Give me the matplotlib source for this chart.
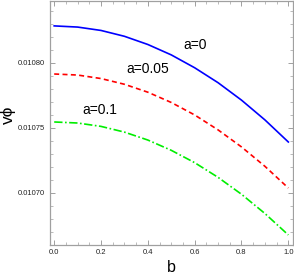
import matplotlib
matplotlib.use('Agg')
import matplotlib.pyplot as plt
from matplotlib.ticker import MultipleLocator

plt.rcParams['font.family'] = ['Liberation Sans', 'DejaVu Sans']

b = [0.0, 0.1, 0.2, 0.3, 0.4, 0.5, 0.6, 0.7, 0.8, 0.9, 1.0]
v_a0 = [0.0108285, 0.0108276, 0.0108250, 0.0108205, 0.0108142, 0.0108062,
        0.0107963, 0.0107848, 0.0107714, 0.0107562, 0.0107392]
v_a005 = [0.0107915, 0.0107907, 0.0107880, 0.0107836, 0.0107775, 0.0107696,
          0.0107600, 0.0107485, 0.0107354, 0.0107205, 0.0107038]
v_a01 = [0.0107546, 0.0107538, 0.0107512, 0.0107468, 0.0107407, 0.0107328,
         0.0107233, 0.0107120, 0.0106990, 0.0106842, 0.0106677]
y_ticks = [0.01070, 0.01075, 0.01080]
x_ticks = [0.0, 0.2, 0.4, 0.6, 0.8, 1.0]

fig = plt.figure(figsize=(2.94, 2.74), dpi=100)
ax = fig.add_axes([0.1684, 0.106, 0.8282, 0.892])

ax.plot(b, v_a0, color='#0000ff', lw=1.2)
ax.plot(b, v_a005, color='#ff0000', lw=1.2, ls=(0, (3, 2)))
ax.plot(b, v_a01, color='#00ee00', lw=1.2, ls=(0, (5, 1.5, 1, 1.5)))

ax.text(0.60, 0.010814, 'a=0', fontsize=10, ha='center', va='center')
ax.text(0.40, 0.010795, 'a=0.05', fontsize=10, ha='center', va='center')
ax.text(0.196, 0.010764, 'a=0.1', fontsize=10, ha='center', va='center')

ax.set_xlim(-0.02, 1.02)
ax.set_ylim(0.01066, 0.010848)
ax.set_xticks(x_ticks)
ax.set_xticklabels([f'{t:.1f}' for t in x_ticks])
ax.set_yticks(y_ticks)
ax.set_yticklabels([f'{t:.5f}' for t in y_ticks])
ax.xaxis.set_minor_locator(MultipleLocator(0.05))
ax.yaxis.set_minor_locator(MultipleLocator(0.00001))

frame = '#a0a0a0'
for s in ax.spines.values():
    s.set_color(frame)
    s.set_linewidth(0.9)
ax.tick_params(which='both', direction='in', top=True, right=True,
               color=frame, labelsize=5.5, labelcolor='#222222', pad=3)
ax.tick_params(which='major', length=3.5, width=0.7)
ax.tick_params(which='minor', length=2, width=0.5)

fig.text(0.027, 0.58, 'vϕ', fontsize=12.5, rotation=90, ha='center', va='center')
fig.text(0.582, 0.025, 'b', fontsize=11.5, ha='center', va='center')

fig.savefig('out.png', dpi=100)
